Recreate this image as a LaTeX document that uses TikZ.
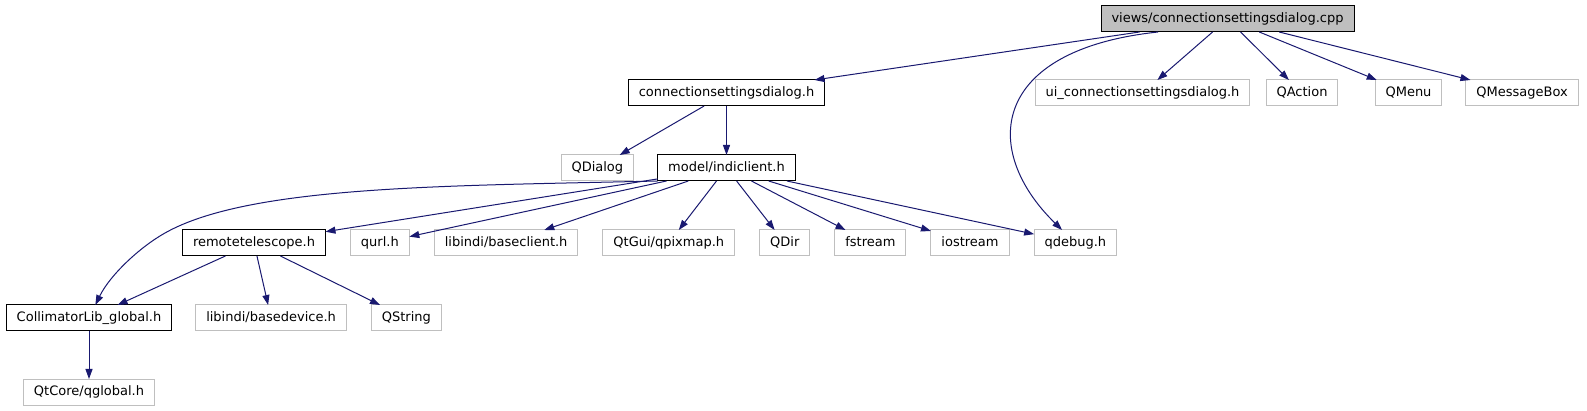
\documentclass[tikz,border=0pt]{standalone}
\usepackage{fontspec}
\setmainfont{DejaVu Sans}
\usetikzlibrary{arrows.meta,positioning}

\definecolor{edgeblue}{HTML}{191970}
\definecolor{grey75}{HTML}{BFBFBF}

\begin{document}
\begin{tikzpicture}[
    x=1pt, y=-1pt,
    node distance=25pt,
    box/.style={draw, line width=1pt, minimum height=26pt, inner xsep=10.5pt, inner ysep=0pt, outer sep=0pt, text height=10pt, text depth=3pt, font=\fontsize{13pt}{15pt}\selectfont},
    hdr/.style={box, draw=black},
    ext/.style={box, draw=grey75},
    src/.style={box, draw=black, fill=grey75},
    arrow/.style={-{Triangle[length=10pt,width=7pt]}, line width=1pt, draw=edgeblue}
]
\useasboundingbox (0,0) rectangle (1587,411);

\node[src] (cpp) at (1227.5,19) {views/connectionsettingsdialog.cpp};
\node[hdr] (dialogh) at (726.5,93) {connectionsettingsdialog.h};
\node[ext] (uih) at (1142.5,93) {ui\_connectionsettingsdialog.h};
\node[ext] (qaction) at (1302,93) {QAction};
\node[ext] (qmenu) at (1408.5,93) {QMenu};
\node[ext, right=24pt of qmenu] (qmsgbox) {QMessageBox};
\node[hdr, below=49pt of dialogh] (indiclient) {model/indiclient.h};
\node[ext, left=24pt of indiclient] (qdialog) {QDialog};
\node[hdr] (telescope) at (254,243) {remotetelescope.h};
\node[ext, right=of telescope] (qurl) {qurl.h};
\node[ext, right=of qurl] (baseclient) {libindi/baseclient.h};
\node[ext, right=of baseclient] (qpixmap) {QtGui/qpixmap.h};
\node[ext, right=of qpixmap] (qdir) {QDir};
\node[ext, right=of qdir] (fstream) {fstream};
\node[ext, right=of fstream] (iostream) {iostream};
\node[ext, right=of iostream] (qdebug) {qdebug.h};
\node[hdr] (collimator) at (89,318) {CollimatorLib\_global.h};
\node[ext, right=24pt of collimator] (basedevice) {libindi/basedevice.h};
\node[ext, right=of basedevice] (qstring) {QString};
\node[ext, below=48pt of collimator] (qglobal) {QtCore/qglobal.h};

\draw[arrow] (cpp) -- (dialogh);
\draw[arrow] ([xshift=57pt]cpp.south west) .. controls (990,50) and (980,150) .. (qdebug);
\draw[arrow] (cpp) -- (uih);
\draw[arrow] (cpp) -- (qaction);
\draw[arrow] (cpp) -- (qmenu);
\draw[arrow] (cpp) -- (qmsgbox);
\draw[arrow] (dialogh) -- (qdialog);
\draw[arrow] (dialogh) -- (indiclient);
\draw[arrow] (indiclient.south west) .. controls (450,186) and (250,185) .. (165,233)
    .. controls (140,247) and (110,275) .. (collimator);
\draw[arrow] (indiclient) -- (telescope);
\draw[arrow] (indiclient) -- (qurl);
\draw[arrow] (indiclient) -- (baseclient);
\draw[arrow] (indiclient) -- (qpixmap);
\draw[arrow] (indiclient) -- (qdir);
\draw[arrow] (indiclient) -- (fstream);
\draw[arrow] (indiclient) -- (iostream);
\draw[arrow] (indiclient) -- (qdebug);
\draw[arrow] (telescope) -- (collimator);
\draw[arrow] (telescope) -- (basedevice);
\draw[arrow] (telescope) -- (qstring);
\draw[arrow] (collimator) -- (qglobal);
\end{tikzpicture}
\end{document}
